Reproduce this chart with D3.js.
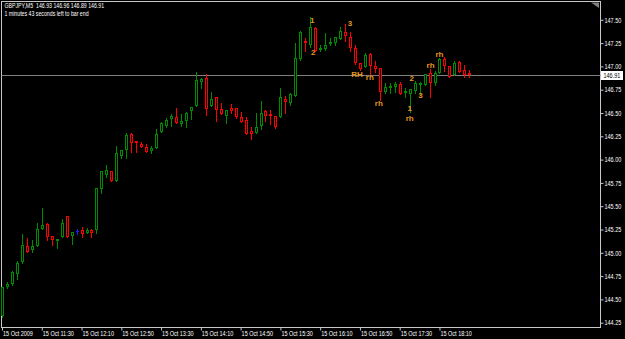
<!DOCTYPE html>
<html><head><meta charset="utf-8">
<script src="https://cdn.jsdelivr.net/npm/d3@7"></script>
<style>
html,body{margin:0;padding:0;background:#000;overflow:hidden}
svg{display:block}
text{font-family:"Liberation Sans Narrow","Liberation Sans",Arial,sans-serif}
</style></head><body>
<svg id="chart" width="625" height="339"></svg>
<script>
// ---------- data ----------
const symbol = "GBPJPY,M5";
const timerText = "1 minutes 43 seconds left to bar end";
const firstBarTime = "2009-10-15T10:50:00";
const barMinutes = 5;

const opens = [144.32,144.63,144.67,144.77,144.90,145.07,145.03,145.07,145.26,145.31,
  145.18,145.13,145.17,145.40,145.18,145.23,145.24,145.21,145.24,145.24,
  145.68,145.835,145.88,145.77,146.04,146.10,146.28,146.20,146.17,146.13,
  146.095,146.125,146.30,146.36,146.435,146.455,146.38,146.415,146.525,146.58,
  146.835,146.88,146.58,146.67,146.545,146.47,146.55,146.55,146.455,146.425,
  146.305,146.29,146.36,146.525,146.49,146.47,146.46,146.65,146.605,146.68,
  147.075,147.275,147.23,147.41,147.185,147.185,147.235,147.25,147.295,147.37,
  147.32,147.195,147.035,146.99,147.135,147.005,146.98,146.73,146.765,146.78,
  146.81,146.72,146.705,146.74,146.80,146.80,146.93,146.825,146.93,147.075,
  147.005,146.91,147.05,146.96,146.93];
const highs = [144.63,144.69,144.81,144.91,145.20,145.16,145.14,145.32,145.48,145.32,
  145.18,145.145,145.36,145.40,145.22,145.26,145.28,145.27,145.25,145.69,
  145.88,145.94,145.88,146.15,146.10,146.29,146.29,146.20,146.19,146.17,
  146.145,146.325,146.405,146.445,146.49,146.55,146.49,146.51,146.565,146.94,
  146.875,146.915,146.73,146.67,146.605,146.535,146.595,146.55,146.515,146.455,
  146.355,146.495,146.63,146.53,146.53,146.47,146.765,146.68,146.71,147.255,
  147.385,147.30,147.53,147.42,147.23,147.355,147.31,147.32,147.42,147.455,
  147.37,147.23,147.04,147.14,147.14,147.06,146.98,146.82,146.82,146.835,
  146.835,146.765,146.76,146.845,146.83,146.92,146.97,146.955,147.085,147.10,
  147.005,147.06,147.055,147.015,146.96];
const lows = [144.31,144.62,144.65,144.72,144.895,145.01,145.01,145.07,145.26,145.14,
  145.08,145.055,145.17,145.17,145.09,145.20,145.17,145.21,145.17,145.21,
  145.64,145.81,145.77,145.77,146.02,146.02,146.08,146.085,146.14,146.085,
  146.075,146.12,146.30,146.345,146.36,146.395,146.36,146.35,146.44,146.57,
  146.765,146.48,146.575,146.415,146.485,146.39,146.505,146.445,146.405,146.28,
  146.22,146.285,146.33,146.415,146.38,146.34,146.455,146.505,146.585,146.68,
  147.07,147.17,147.21,147.165,147.165,147.18,147.23,147.23,147.29,147.275,
  147.16,147.025,146.96,146.99,146.91,146.945,146.64,146.71,146.71,146.73,
  146.70,146.675,146.515,146.71,146.695,146.80,146.675,146.80,146.93,146.955,
  146.885,146.905,146.94,146.89,146.89];
const closes = [144.63,144.67,144.79,144.89,145.08,145.01,145.07,145.25,145.30,145.17,
  145.14,145.145,145.32,145.17,145.22,145.23,145.20,145.24,145.21,145.69,
  145.88,145.89,145.77,146.07,146.10,146.26,146.18,146.175,146.14,146.085,
  146.125,146.28,146.39,146.43,146.47,146.395,146.41,146.505,146.56,146.855,
  146.87,146.54,146.645,146.53,146.485,146.53,146.525,146.46,146.405,146.28,
  146.28,146.345,146.505,146.47,146.47,146.345,146.67,146.62,146.705,147.085,
  147.37,147.25,147.42,147.17,147.20,147.23,147.265,147.32,147.385,147.33,
  147.195,147.035,146.97,147.12,147.005,146.97,146.72,146.78,146.79,146.81,
  146.705,146.735,146.755,146.82,146.825,146.92,146.825,146.93,147.075,147.005,
  146.89,147.04,146.945,146.91,146.91];

const priceTicks = [144.25,144.50,144.75,145.00,145.25,145.50,145.75,146.00,146.25,146.50,146.75,147.00,147.25,147.50];
const tickTimes = ["10:50","11:30","12:10","12:50","13:30","14:10","14:50","15:30","16:10","16:50","17:30","18:10"];
const tickLabels = ["15 Oct 2009","15 Oct 11:30","15 Oct 12:10","15 Oct 12:50","15 Oct 13:30","15 Oct 14:10",
  "15 Oct 14:50","15 Oct 15:30","15 Oct 16:10","15 Oct 16:50","15 Oct 17:30","15 Oct 18:10"];
const lastPrice = 146.91;

const waveLabels = ["1","2","3","RH","rh","rh","2","3","1","rh","rh","rh"];
const waveBars   = [62.4,62.6,70.0,71.4,74.1,75.8,82.4,84.2,82.1,82.0,86.3,88.0];
const wavePrices = [147.466,147.117,147.433,146.886,146.859,146.575,146.843,146.656,146.521,146.414,146.988,147.101];

// ---------- layout ----------
const W = 625, H = 339;
const plot = {left: 1.5, right: 600.5, top: 1.5, bottom: 327.5};
const svg = d3.select("#chart");
svg.append("rect").attr("width", W).attr("height", H).attr("fill", "#000");

// condense text to a narrow look (terminal font)
function narrow(sel, f) {
  sel.each(function () {
    const len = this.getComputedTextLength();
    if (len > 0) d3.select(this).attr("textLength", len * f).attr("lengthAdjust", "spacingAndGlyphs");
  });
}
const testT = svg.append("text").attr("font-size", "7px").text("147.50");
const NF = Math.min(1, 16.8 / testT.node().getComputedTextLength());
testT.remove();

const parseT = d3.timeParse("%Y-%m-%dT%H:%M:%S");
const t0 = parseT(firstBarTime);
const barTime = i => d3.timeMinute.offset(t0, i * barMinutes);
const nBars = opens.length;
const x = d3.scaleTime().domain([t0, barTime(nBars - 1)]).range([2, 469.3]);
const y = d3.scaleLinear().domain([144.25, 147.5]).range([322.7, 19.8]);

const bars = d3.range(nBars).map(i => ({t: barTime(i), o: opens[i], h: highs[i], l: lows[i], c: closes[i]}));

// frame
svg.append("rect").attr("x", plot.left).attr("y", plot.top)
  .attr("width", plot.right - plot.left).attr("height", plot.bottom - plot.top)
  .attr("fill", "none").attr("stroke", "#c8c8c8").attr("stroke-width", 1);

// shift marker
svg.append("path").attr("d", "M591,2.5 L599,2.5 L599,8 Z").attr("fill", "#808080");

// bid line
const yb = Math.round(y(lastPrice)) + 0.5;
svg.append("line").attr("x1", plot.left).attr("x2", plot.right).attr("y1", yb).attr("y2", yb)
  .attr("stroke", "#808080").attr("stroke-width", 1);

// candles
const UP = "#008c00", DN = "#ff0000", DOJI = "#2020ff";
const g = svg.append("g");
bars.forEach(b => {
  const cx = Math.round(x(b.t));
  const col = b.c > b.o ? UP : (b.c < b.o ? DN : DOJI);
  g.append("line").attr("x1", cx + 0.5).attr("x2", cx + 0.5)
    .attr("y1", Math.round(y(b.h))).attr("y2", Math.round(y(b.l)) + 1)
    .attr("stroke", col).attr("stroke-width", 1);
  const yt = Math.round(y(Math.max(b.o, b.c))), ybt = Math.round(y(Math.min(b.o, b.c)));
  if (ybt - yt >= 2) {
    g.append("rect").attr("x", cx - 1 + 0.5).attr("y", yt + 0.5)
      .attr("width", 2).attr("height", ybt - yt - 1)
      .attr("fill", "#000").attr("stroke", col).attr("stroke-width", 1);
  } else {
    g.append("rect").attr("x", cx - 1).attr("y", yt).attr("width", 3).attr("height", Math.max(1, ybt - yt + 1))
      .attr("fill", col);
  }
});

// wave labels
svg.append("g").selectAll("text").data(waveLabels).join("text")
  .attr("x", (d, i) => x(d3.timeMinute.offset(t0, waveBars[i] * barMinutes)))
  .attr("y", (d, i) => y(wavePrices[i]))
  .attr("text-anchor", "middle")
  .attr("font-family", "'Liberation Serif','Times New Roman',serif")
  .attr("font-size", "8px").attr("font-weight", "bold")
  .attr("fill", "#e8961e")
  .text(d => d);

// right axis
const yAxis = d3.axisRight(y).tickValues(priceTicks).tickFormat(d3.format(".2f")).tickSize(3).tickPadding(1);
const ga = svg.append("g").attr("transform", `translate(${plot.right},0)`).call(yAxis);
ga.select(".domain").remove();
ga.selectAll("line").attr("stroke", "#c8c8c8");
ga.selectAll("text").attr("fill", "#fff").attr("font-size", "7px").call(narrow, NF);

// last price tag
svg.append("rect").attr("x", 601).attr("y", yb - 4.5).attr("width", 22).attr("height", 9).attr("fill", "#fff");
svg.append("text").attr("x", 603.5).attr("y", yb + 2.5).attr("fill", "#000").attr("font-size", "7px")
  .text(d3.format(".2f")(lastPrice)).call(narrow, NF);

// bottom axis
const tickDates = tickTimes.map(s => parseT("2009-10-15T" + s + ":00"));
const xAxis = d3.axisBottom(x).tickValues(tickDates).tickFormat((d, i) => tickLabels[i]).tickSize(3).tickPadding(1);
const gx = svg.append("g").attr("transform", `translate(0,${plot.bottom})`).call(xAxis);
gx.select(".domain").remove();
gx.selectAll("line").attr("stroke", "#c8c8c8");
gx.selectAll("text").attr("fill", "#fff").attr("font-size", "7px").attr("text-anchor", "start").attr("dx", "0.5").call(narrow, NF);

// header
svg.append("text").attr("x", 4.5).attr("y", 8).attr("fill", "#fff").attr("font-size", "7px")
  .attr("xml:space", "preserve")
  .text(`${symbol}  ${d3.format(".2f")(opens[nBars-1])} ${d3.format(".2f")(highs[nBars-1])} ${d3.format(".2f")(lows[nBars-1])} ${d3.format(".2f")(closes[nBars-1])}`)
  .call(narrow, NF * 0.95);
svg.append("text").attr("x", 4.5).attr("y", 15.5).attr("fill", "#fff").attr("font-size", "7px").text(timerText)
  .call(narrow, NF * 0.95);
</script>
</body></html>
